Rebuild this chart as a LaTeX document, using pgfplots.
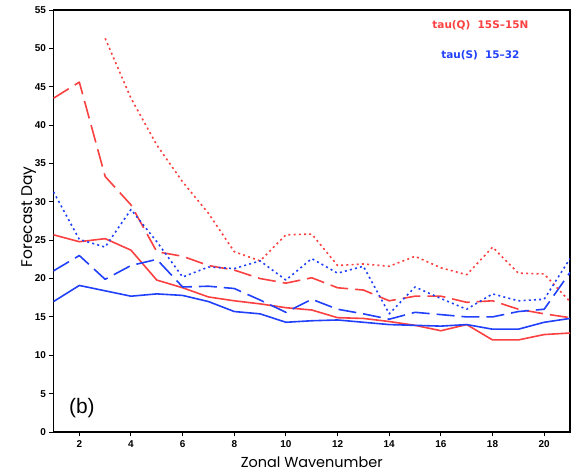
\documentclass[border=0pt]{standalone}
\usepackage{fontspec}
\setmainfont{Liberation Sans}
\newfontfamily\gothic{Poppins}
\newfontfamily\legfont{DejaVu Sans}
\usepackage{pgfplots}
\pgfplotsset{compat=1.18}
\definecolor{myred}{RGB}{250,64,64}
\definecolor{myblue}{RGB}{32,64,250}
\begin{document}
\begin{tikzpicture}
\path[use as bounding box] (-53.5bp,-41bp) rectangle (517.5bp,432bp);
\begin{axis}[
  at={(0,0)}, anchor=south west,
  scale only axis, width=516.5bp, height=422bp,
  xmin=1, xmax=21, ymin=0, ymax=55,
  xtick={2,4,...,20}, ytick={0,5,...,55},
  axis line style={line width=1.5bp},
  tick style={black, line width=1bp},
  tick align=outside, major tick length=4bp,
  tick pos=left,
  /pgf/number format/assume math mode=true,
  ticklabel style={font=\fontsize{10}{11}\selectfont\bfseries},
  xticklabel style={yshift=-1bp},
  xlabel={Zonal Wavenumber}, ylabel={Forecast Day},
  label style={font=\gothic\fontsize{14.5}{16}\selectfont},
  xlabel style={at={(axis description cs:0.5,-0.0837)}, anchor=base},
  ylabel style={at={(axis description cs:-0.0416,0.51)}, anchor=base, font=\gothic\fontsize{15.5}{17}\selectfont},
  every axis plot/.append style={line width=1.6bp, line join=round},
  clip=true,
]
% tau(Q) solid
\addplot[myred] coordinates {(1,25.7)(2,24.8)(3,25.2)(4,23.7)(5,19.8)(6,18.8)(7,17.6)(8,17.1)(9,16.7)(10,16.2)(11,15.9)(12,14.9)(13,14.8)(14,14.4)(15,13.9)(16,13.2)(17,14.0)(18,12.0)(19,12.0)(20,12.7)(21,12.9)};
% tau(S) solid
\addplot[myblue] coordinates {(1,17.0)(2,19.1)(3,18.4)(4,17.7)(5,18.0)(6,17.8)(7,17.0)(8,15.7)(9,15.4)(10,14.3)(11,14.5)(12,14.6)(13,14.3)(14,14.0)(15,13.9)(16,13.8)(17,14.0)(18,13.4)(19,13.4)(20,14.3)(21,14.8)};
% tau(Q) dashed
\addplot[myred, dash pattern=on 18bp off 7bp] coordinates {(1,43.5)(2,45.6)(3,33.3)(4,29.6)(5,23.5)(6,22.9)(7,21.7)(8,21.1)(9,20.0)(10,19.4)(11,20.1)(12,18.8)(13,18.5)(14,17.1)(15,17.7)(16,17.7)(17,16.9)(18,17.1)(19,16.0)(20,15.4)(21,14.9)};
% tau(S) dashed
\addplot[myblue, dash pattern=on 18bp off 7bp] coordinates {(1,21.0)(2,23.0)(3,19.9)(4,21.7)(5,22.5)(6,18.9)(7,19.0)(8,18.7)(9,17.2)(10,15.6)(11,17.3)(12,16.0)(13,15.4)(14,14.7)(15,15.6)(16,15.3)(17,15.0)(18,15.0)(19,15.7)(20,16.0)(21,20.8)};
% tau(Q) dotted
\addplot[myred, dash pattern=on 2bp off 3.2bp] coordinates {(3,51.3)(4,43.5)(5,37.4)(6,32.6)(7,28.5)(8,23.5)(9,22.3)(10,25.7)(11,25.8)(12,21.7)(13,21.9)(14,21.6)(15,22.9)(16,21.4)(17,20.5)(18,24.1)(19,20.7)(20,20.6)(21,17.0)};
% tau(S) dotted
\addplot[myblue, dash pattern=on 2bp off 3.2bp] coordinates {(1,31.3)(2,25.1)(3,24.1)(4,29.0)(5,24.8)(6,20.2)(7,21.5)(8,21.3)(9,22.3)(10,19.8)(11,22.6)(12,20.7)(13,21.6)(14,15.4)(15,18.9)(16,17.4)(17,16.0)(18,18.0)(19,17.1)(20,17.3)(21,22.6)};
\node[font=\fontsize{21}{24}\selectfont] at (axis cs:2.10,3.1) {(b)};
\node[font=\legfont\fontsize{10.5}{12}\selectfont\bfseries, text=myred] at (axis cs:17.53,53.05) {tau(Q)\ \ 15S\textendash15N};
\node[font=\legfont\fontsize{10.5}{12}\selectfont\bfseries, text=myblue] at (axis cs:17.53,49.1) {tau(S)\ \ 15\textendash32};
\end{axis}
\end{tikzpicture}
\end{document}
